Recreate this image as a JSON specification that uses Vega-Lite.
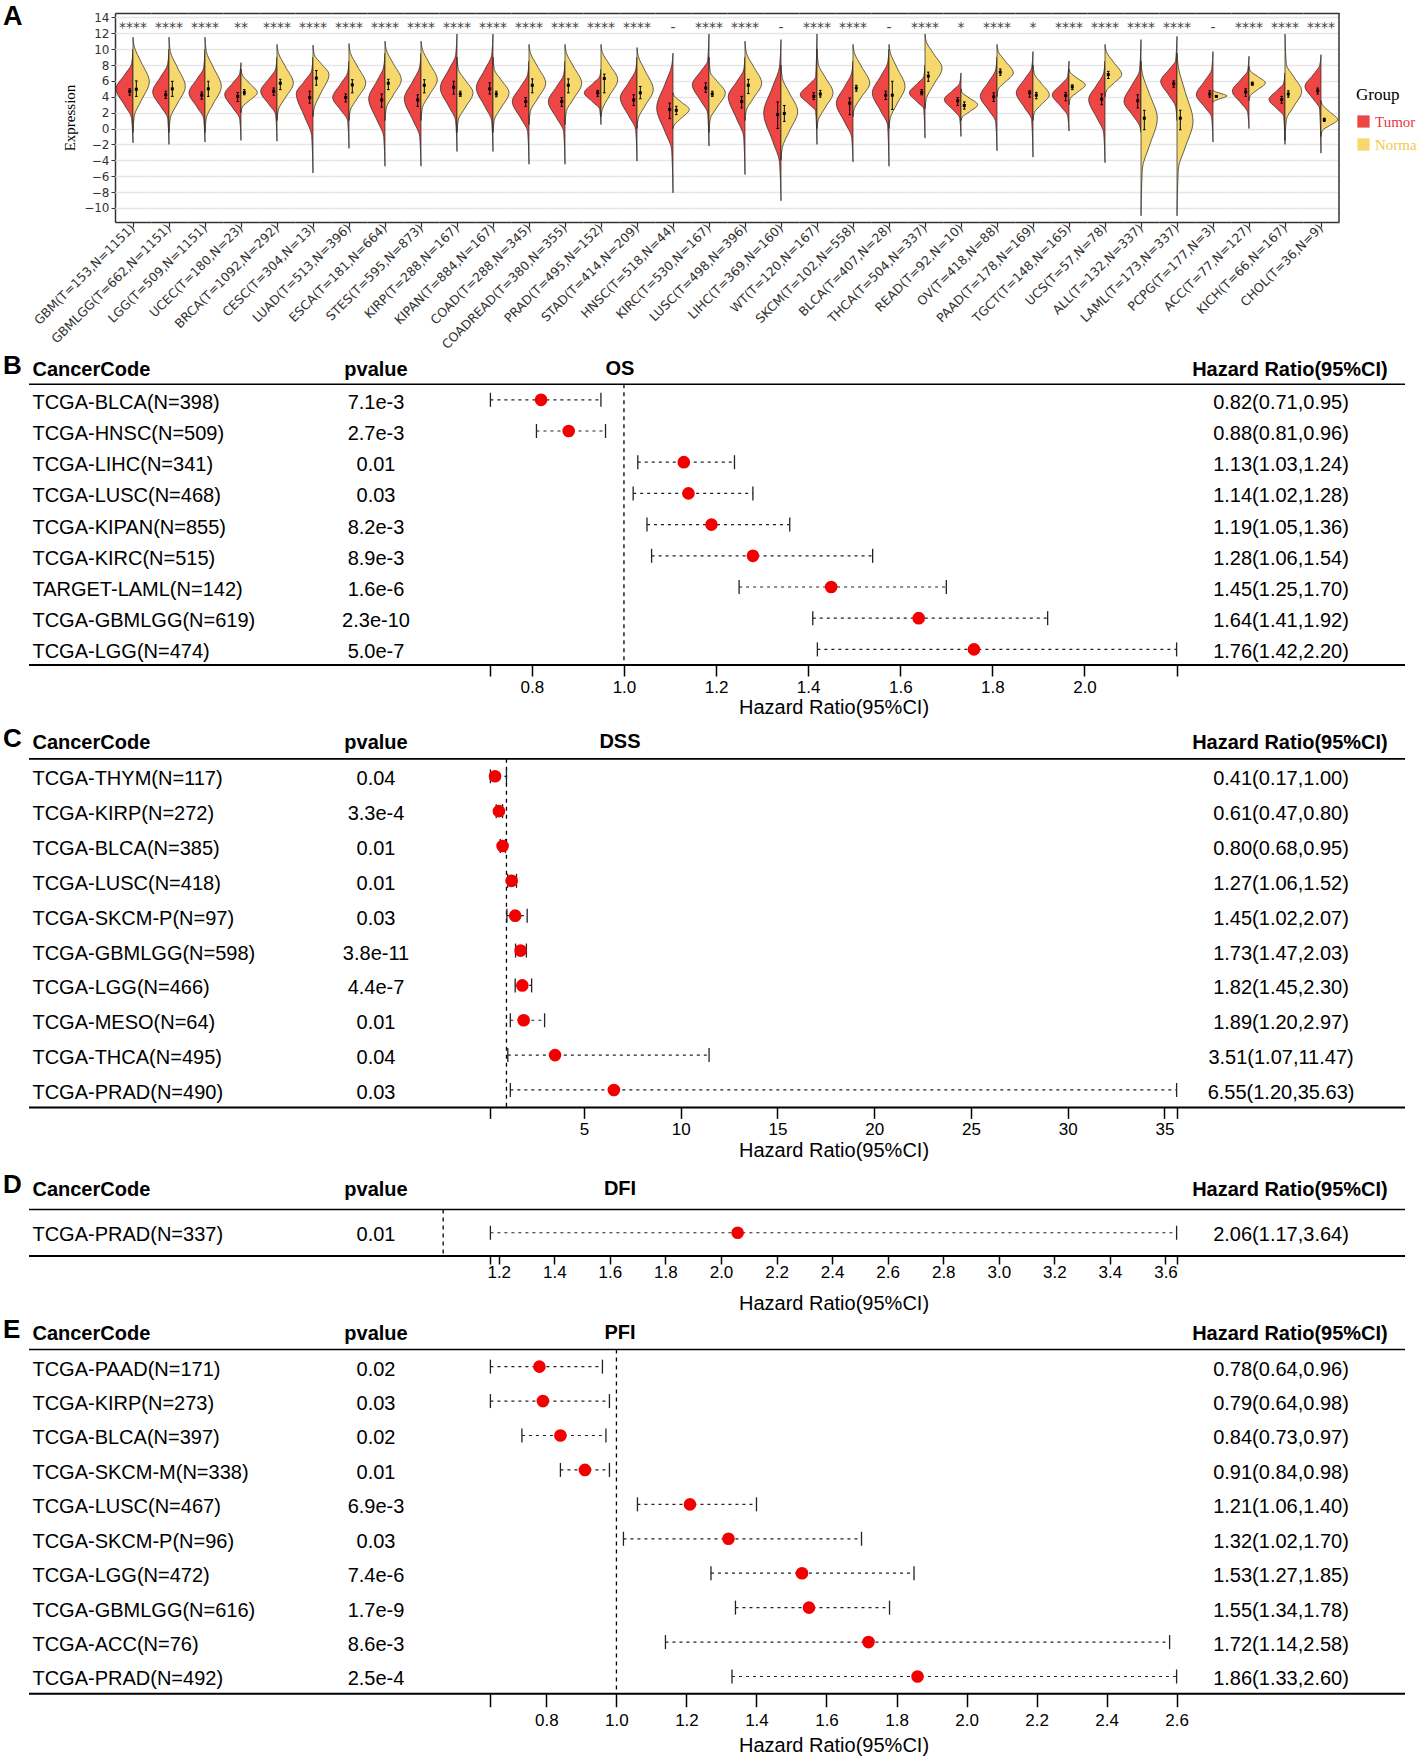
{
"$schema":"https://vega.github.io/schema/vega-lite/v6.json",
"background":"white",
"padding":{"left":2,"top":2,"right":0,"bottom":0},
"spacing":0,
"config":{"view":{"stroke":null},"axis":{"grid":false},"font":"Liberation Sans"},
"resolve":{"legend":{"fill":"independent"}},
"vconcat":[
{
"data":{"values":[
{"c":"GBM","g":"Tumor","k":"v","v":-1.8,"w":0},{"c":"GBM","g":"Tumor","k":"v","v":1.3,"w":1.4},{"c":"GBM","g":"Tumor","k":"v","v":2.95,"w":8.5},{"c":"GBM","g":"Tumor","k":"v","v":5.0,"w":17},{"c":"GBM","g":"Tumor","k":"v","v":6.75,"w":8.5},{"c":"GBM","g":"Tumor","k":"v","v":8.15,"w":1.4},{"c":"GBM","g":"Tumor","k":"v","v":10,"w":0},
{"c":"GBM","g":"Normal","k":"v","v":-0.5,"w":0},{"c":"GBM","g":"Normal","k":"v","v":1.6,"w":1.3},{"c":"GBM","g":"Normal","k":"v","v":3.5,"w":8.2},{"c":"GBM","g":"Normal","k":"v","v":5.9,"w":16.3},{"c":"GBM","g":"Normal","k":"v","v":8.35,"w":8.2},{"c":"GBM","g":"Normal","k":"v","v":10.3,"w":1.3},{"c":"GBM","g":"Normal","k":"v","v":11.5,"w":0},
{"c":"GBMLGG","g":"Tumor","k":"v","v":-2,"w":0},{"c":"GBMLGG","g":"Tumor","k":"v","v":1.3,"w":1.3},{"c":"GBMLGG","g":"Tumor","k":"v","v":2.75,"w":8.2},{"c":"GBMLGG","g":"Tumor","k":"v","v":4.6,"w":16.3},{"c":"GBMLGG","g":"Tumor","k":"v","v":6.55,"w":8.2},{"c":"GBMLGG","g":"Tumor","k":"v","v":8.1,"w":1.3},{"c":"GBMLGG","g":"Tumor","k":"v","v":10,"w":0},
{"c":"GBMLGG","g":"Normal","k":"v","v":-0.5,"w":0},{"c":"GBMLGG","g":"Normal","k":"v","v":1.35,"w":1.3},{"c":"GBMLGG","g":"Normal","k":"v","v":3.1,"w":8.2},{"c":"GBMLGG","g":"Normal","k":"v","v":5.3,"w":16.3},{"c":"GBMLGG","g":"Normal","k":"v","v":7.75,"w":8.2},{"c":"GBMLGG","g":"Normal","k":"v","v":9.7,"w":1.3},{"c":"GBMLGG","g":"Normal","k":"v","v":11.5,"w":0},
{"c":"LGG","g":"Tumor","k":"v","v":-1.7,"w":0},{"c":"LGG","g":"Tumor","k":"v","v":1.25,"w":1.3},{"c":"LGG","g":"Tumor","k":"v","v":2.7,"w":8},{"c":"LGG","g":"Tumor","k":"v","v":4.5,"w":16},{"c":"LGG","g":"Tumor","k":"v","v":6.25,"w":8},{"c":"LGG","g":"Tumor","k":"v","v":7.65,"w":1.3},{"c":"LGG","g":"Tumor","k":"v","v":10,"w":0},
{"c":"LGG","g":"Normal","k":"v","v":-0.5,"w":0},{"c":"LGG","g":"Normal","k":"v","v":1.35,"w":1.3},{"c":"LGG","g":"Normal","k":"v","v":3.1,"w":8.2},{"c":"LGG","g":"Normal","k":"v","v":5.3,"w":16.3},{"c":"LGG","g":"Normal","k":"v","v":7.75,"w":8.2},{"c":"LGG","g":"Normal","k":"v","v":9.7,"w":1.3},{"c":"LGG","g":"Normal","k":"v","v":11.5,"w":0},
{"c":"UCEC","g":"Tumor","k":"v","v":-1.5,"w":0},{"c":"UCEC","g":"Tumor","k":"v","v":1.25,"w":1.3},{"c":"UCEC","g":"Tumor","k":"v","v":2.6,"w":8.2},{"c":"UCEC","g":"Tumor","k":"v","v":4.3,"w":16.3},{"c":"UCEC","g":"Tumor","k":"v","v":5.75,"w":8.2},{"c":"UCEC","g":"Tumor","k":"v","v":6.9,"w":1.3},{"c":"UCEC","g":"Tumor","k":"v","v":8.3,"w":0},
{"c":"UCEC","g":"Normal","k":"v","v":2.0,"w":0},{"c":"UCEC","g":"Normal","k":"v","v":2.7,"w":1.3},{"c":"UCEC","g":"Normal","k":"v","v":3.5,"w":8.2},{"c":"UCEC","g":"Normal","k":"v","v":4.5,"w":16.3},{"c":"UCEC","g":"Normal","k":"v","v":5.75,"w":8.2},{"c":"UCEC","g":"Normal","k":"v","v":6.75,"w":1.3},{"c":"UCEC","g":"Normal","k":"v","v":7.5,"w":0},
{"c":"BRCA","g":"Tumor","k":"v","v":-1.6,"w":0},{"c":"BRCA","g":"Tumor","k":"v","v":1.75,"w":1.3},{"c":"BRCA","g":"Tumor","k":"v","v":3.05,"w":8.2},{"c":"BRCA","g":"Tumor","k":"v","v":4.7,"w":16.3},{"c":"BRCA","g":"Tumor","k":"v","v":6.25,"w":8.2},{"c":"BRCA","g":"Tumor","k":"v","v":7.5,"w":1.3},{"c":"BRCA","g":"Tumor","k":"v","v":9,"w":0},
{"c":"BRCA","g":"Normal","k":"v","v":1.0,"w":0},{"c":"BRCA","g":"Normal","k":"v","v":2.35,"w":1.3},{"c":"BRCA","g":"Normal","k":"v","v":3.85,"w":8.2},{"c":"BRCA","g":"Normal","k":"v","v":5.7,"w":16.3},{"c":"BRCA","g":"Normal","k":"v","v":7.85,"w":8.2},{"c":"BRCA","g":"Normal","k":"v","v":9.55,"w":1.3},{"c":"BRCA","g":"Normal","k":"v","v":10.6,"w":0},
{"c":"CESC","g":"Tumor","k":"v","v":-5.6,"w":0},{"c":"CESC","g":"Tumor","k":"v","v":-0.9,"w":1.3},{"c":"CESC","g":"Tumor","k":"v","v":1.45,"w":8.3},{"c":"CESC","g":"Tumor","k":"v","v":4.4,"w":16.7},{"c":"CESC","g":"Tumor","k":"v","v":6.0,"w":8.3},{"c":"CESC","g":"Tumor","k":"v","v":7.3,"w":1.3},{"c":"CESC","g":"Tumor","k":"v","v":9,"w":0},
{"c":"CESC","g":"Normal","k":"v","v":1.5,"w":0},{"c":"CESC","g":"Normal","k":"v","v":2.65,"w":1.3},{"c":"CESC","g":"Normal","k":"v","v":4.5,"w":8},{"c":"CESC","g":"Normal","k":"v","v":6.8,"w":16},{"c":"CESC","g":"Normal","k":"v","v":8.2,"w":8},{"c":"CESC","g":"Normal","k":"v","v":9.3,"w":1.3},{"c":"CESC","g":"Normal","k":"v","v":10.5,"w":0},
{"c":"LUAD","g":"Tumor","k":"v","v":-2.5,"w":0},{"c":"LUAD","g":"Tumor","k":"v","v":1.0,"w":1.3},{"c":"LUAD","g":"Tumor","k":"v","v":2.3,"w":8.2},{"c":"LUAD","g":"Tumor","k":"v","v":3.9,"w":16.3},{"c":"LUAD","g":"Tumor","k":"v","v":5.65,"w":8.2},{"c":"LUAD","g":"Tumor","k":"v","v":7.05,"w":1.3},{"c":"LUAD","g":"Tumor","k":"v","v":8.5,"w":0},
{"c":"LUAD","g":"Normal","k":"v","v":1.0,"w":0},{"c":"LUAD","g":"Normal","k":"v","v":2.3,"w":1.3},{"c":"LUAD","g":"Normal","k":"v","v":3.8,"w":8.3},{"c":"LUAD","g":"Normal","k":"v","v":5.7,"w":16.7},{"c":"LUAD","g":"Normal","k":"v","v":7.85,"w":8.3},{"c":"LUAD","g":"Normal","k":"v","v":9.55,"w":1.3},{"c":"LUAD","g":"Normal","k":"v","v":10.7,"w":0},
{"c":"ESCA","g":"Tumor","k":"v","v":-4.75,"w":0},{"c":"ESCA","g":"Tumor","k":"v","v":-1.0,"w":1.3},{"c":"ESCA","g":"Tumor","k":"v","v":1.1,"w":8.2},{"c":"ESCA","g":"Tumor","k":"v","v":3.75,"w":16.3},{"c":"ESCA","g":"Tumor","k":"v","v":5.95,"w":8.2},{"c":"ESCA","g":"Tumor","k":"v","v":7.75,"w":1.3},{"c":"ESCA","g":"Tumor","k":"v","v":9.5,"w":0},
{"c":"ESCA","g":"Normal","k":"v","v":1.0,"w":0},{"c":"ESCA","g":"Normal","k":"v","v":2.6,"w":1.3},{"c":"ESCA","g":"Normal","k":"v","v":4.2,"w":8.2},{"c":"ESCA","g":"Normal","k":"v","v":6.15,"w":16.3},{"c":"ESCA","g":"Normal","k":"v","v":8.2,"w":8.2},{"c":"ESCA","g":"Normal","k":"v","v":9.9,"w":1.3},{"c":"ESCA","g":"Normal","k":"v","v":11,"w":0},
{"c":"STES","g":"Tumor","k":"v","v":-4.75,"w":0},{"c":"STES","g":"Tumor","k":"v","v":-1.0,"w":1.3},{"c":"STES","g":"Tumor","k":"v","v":1.1,"w":8.3},{"c":"STES","g":"Tumor","k":"v","v":3.75,"w":16.7},{"c":"STES","g":"Tumor","k":"v","v":5.95,"w":8.3},{"c":"STES","g":"Tumor","k":"v","v":7.75,"w":1.3},{"c":"STES","g":"Tumor","k":"v","v":9.5,"w":0},
{"c":"STES","g":"Normal","k":"v","v":1.0,"w":0},{"c":"STES","g":"Normal","k":"v","v":2.6,"w":1.3},{"c":"STES","g":"Normal","k":"v","v":4.2,"w":8.2},{"c":"STES","g":"Normal","k":"v","v":6.15,"w":16.3},{"c":"STES","g":"Normal","k":"v","v":8.25,"w":8.2},{"c":"STES","g":"Normal","k":"v","v":10.0,"w":1.3},{"c":"STES","g":"Normal","k":"v","v":11,"w":0},
{"c":"KIRP","g":"Tumor","k":"v","v":-2.9,"w":0},{"c":"KIRP","g":"Tumor","k":"v","v":0.95,"w":1.3},{"c":"KIRP","g":"Tumor","k":"v","v":2.8,"w":8.3},{"c":"KIRP","g":"Tumor","k":"v","v":5.1,"w":16.7},{"c":"KIRP","g":"Tumor","k":"v","v":7.4,"w":8.3},{"c":"KIRP","g":"Tumor","k":"v","v":9.25,"w":1.3},{"c":"KIRP","g":"Tumor","k":"v","v":11.9,"w":0},
{"c":"KIRP","g":"Normal","k":"v","v":-0.5,"w":0},{"c":"KIRP","g":"Normal","k":"v","v":1.1,"w":1.3},{"c":"KIRP","g":"Normal","k":"v","v":2.6,"w":8},{"c":"KIRP","g":"Normal","k":"v","v":4.5,"w":16},{"c":"KIRP","g":"Normal","k":"v","v":6.15,"w":8},{"c":"KIRP","g":"Normal","k":"v","v":7.45,"w":1.3},{"c":"KIRP","g":"Normal","k":"v","v":9,"w":0},
{"c":"KIPAN","g":"Tumor","k":"v","v":-2.9,"w":0},{"c":"KIPAN","g":"Tumor","k":"v","v":0.95,"w":1.3},{"c":"KIPAN","g":"Tumor","k":"v","v":2.8,"w":8.3},{"c":"KIPAN","g":"Tumor","k":"v","v":5.1,"w":16.7},{"c":"KIPAN","g":"Tumor","k":"v","v":7.4,"w":8.3},{"c":"KIPAN","g":"Tumor","k":"v","v":9.25,"w":1.3},{"c":"KIPAN","g":"Tumor","k":"v","v":11.9,"w":0},
{"c":"KIPAN","g":"Normal","k":"v","v":-0.5,"w":0},{"c":"KIPAN","g":"Normal","k":"v","v":1.1,"w":1.3},{"c":"KIPAN","g":"Normal","k":"v","v":2.6,"w":8},{"c":"KIPAN","g":"Normal","k":"v","v":4.5,"w":16},{"c":"KIPAN","g":"Normal","k":"v","v":6.15,"w":8},{"c":"KIPAN","g":"Normal","k":"v","v":7.45,"w":1.3},{"c":"KIPAN","g":"Normal","k":"v","v":9,"w":0},
{"c":"COAD","g":"Tumor","k":"v","v":-4.5,"w":0},{"c":"COAD","g":"Tumor","k":"v","v":-0.4,"w":1.3},{"c":"COAD","g":"Tumor","k":"v","v":1.3,"w":8.3},{"c":"COAD","g":"Tumor","k":"v","v":3.4,"w":16.7},{"c":"COAD","g":"Tumor","k":"v","v":5.3,"w":8.3},{"c":"COAD","g":"Tumor","k":"v","v":6.8,"w":1.3},{"c":"COAD","g":"Tumor","k":"v","v":8.5,"w":0},
{"c":"COAD","g":"Normal","k":"v","v":0.5,"w":0},{"c":"COAD","g":"Normal","k":"v","v":2.15,"w":1.3},{"c":"COAD","g":"Normal","k":"v","v":3.7,"w":8.3},{"c":"COAD","g":"Normal","k":"v","v":5.7,"w":16.7},{"c":"COAD","g":"Normal","k":"v","v":7.85,"w":8.3},{"c":"COAD","g":"Normal","k":"v","v":9.55,"w":1.3},{"c":"COAD","g":"Normal","k":"v","v":10.6,"w":0},
{"c":"COADREAD","g":"Tumor","k":"v","v":-4.5,"w":0},{"c":"COADREAD","g":"Tumor","k":"v","v":-0.4,"w":1.3},{"c":"COADREAD","g":"Tumor","k":"v","v":1.3,"w":8.3},{"c":"COADREAD","g":"Tumor","k":"v","v":3.4,"w":16.7},{"c":"COADREAD","g":"Tumor","k":"v","v":5.3,"w":8.3},{"c":"COADREAD","g":"Tumor","k":"v","v":6.8,"w":1.3},{"c":"COADREAD","g":"Tumor","k":"v","v":8.5,"w":0},
{"c":"COADREAD","g":"Normal","k":"v","v":0.5,"w":0},{"c":"COADREAD","g":"Normal","k":"v","v":2.15,"w":1.3},{"c":"COADREAD","g":"Normal","k":"v","v":3.7,"w":8.3},{"c":"COADREAD","g":"Normal","k":"v","v":5.7,"w":16.7},{"c":"COADREAD","g":"Normal","k":"v","v":7.85,"w":8.3},{"c":"COADREAD","g":"Normal","k":"v","v":9.55,"w":1.3},{"c":"COADREAD","g":"Normal","k":"v","v":10.6,"w":0},
{"c":"PRAD","g":"Tumor","k":"v","v":0.5,"w":0},{"c":"PRAD","g":"Tumor","k":"v","v":2.45,"w":1.3},{"c":"PRAD","g":"Tumor","k":"v","v":3.35,"w":8.3},{"c":"PRAD","g":"Tumor","k":"v","v":4.5,"w":16.7},{"c":"PRAD","g":"Tumor","k":"v","v":5.65,"w":8.3},{"c":"PRAD","g":"Tumor","k":"v","v":6.55,"w":1.3},{"c":"PRAD","g":"Tumor","k":"v","v":7.5,"w":0},
{"c":"PRAD","g":"Normal","k":"v","v":1.5,"w":0},{"c":"PRAD","g":"Normal","k":"v","v":2.4,"w":1.3},{"c":"PRAD","g":"Normal","k":"v","v":4.1,"w":8.3},{"c":"PRAD","g":"Normal","k":"v","v":6.15,"w":16.7},{"c":"PRAD","g":"Normal","k":"v","v":8.1,"w":8.3},{"c":"PRAD","g":"Normal","k":"v","v":9.6,"w":1.3},{"c":"PRAD","g":"Normal","k":"v","v":10.6,"w":0},
{"c":"STAD","g":"Tumor","k":"v","v":-4.1,"w":0},{"c":"STAD","g":"Tumor","k":"v","v":-0.15,"w":1.3},{"c":"STAD","g":"Tumor","k":"v","v":1.6,"w":8.3},{"c":"STAD","g":"Tumor","k":"v","v":3.85,"w":16.7},{"c":"STAD","g":"Tumor","k":"v","v":5.8,"w":8.3},{"c":"STAD","g":"Tumor","k":"v","v":7.4,"w":1.3},{"c":"STAD","g":"Tumor","k":"v","v":9,"w":0},
{"c":"STAD","g":"Normal","k":"v","v":0,"w":0},{"c":"STAD","g":"Normal","k":"v","v":1.3,"w":1.3},{"c":"STAD","g":"Normal","k":"v","v":2.9,"w":8.2},{"c":"STAD","g":"Normal","k":"v","v":4.9,"w":16.3},{"c":"STAD","g":"Normal","k":"v","v":7.25,"w":8.2},{"c":"STAD","g":"Normal","k":"v","v":9.1,"w":1.3},{"c":"STAD","g":"Normal","k":"v","v":10.2,"w":0},
{"c":"HNSC","g":"Tumor","k":"v","v":-8.1,"w":0},{"c":"HNSC","g":"Tumor","k":"v","v":-2.7,"w":1.3},{"c":"HNSC","g":"Tumor","k":"v","v":-0.35,"w":8.2},{"c":"HNSC","g":"Tumor","k":"v","v":2.6,"w":16.3},{"c":"HNSC","g":"Tumor","k":"v","v":5.55,"w":8.2},{"c":"HNSC","g":"Tumor","k":"v","v":7.9,"w":1.3},{"c":"HNSC","g":"Tumor","k":"v","v":9.5,"w":0},
{"c":"HNSC","g":"Normal","k":"v","v":0,"w":0},{"c":"HNSC","g":"Normal","k":"v","v":0.45,"w":1.3},{"c":"HNSC","g":"Normal","k":"v","v":1.3,"w":8.2},{"c":"HNSC","g":"Normal","k":"v","v":2.4,"w":16.3},{"c":"HNSC","g":"Normal","k":"v","v":3.35,"w":8.2},{"c":"HNSC","g":"Normal","k":"v","v":4.1,"w":1.3},{"c":"HNSC","g":"Normal","k":"v","v":4.5,"w":0},
{"c":"KIRC","g":"Tumor","k":"v","v":-2.2,"w":0},{"c":"KIRC","g":"Tumor","k":"v","v":1.9,"w":1.3},{"c":"KIRC","g":"Tumor","k":"v","v":3.5,"w":8.3},{"c":"KIRC","g":"Tumor","k":"v","v":5.5,"w":16.7},{"c":"KIRC","g":"Tumor","k":"v","v":7.2,"w":8.3},{"c":"KIRC","g":"Tumor","k":"v","v":8.55,"w":1.3},{"c":"KIRC","g":"Tumor","k":"v","v":11.9,"w":0},
{"c":"KIRC","g":"Normal","k":"v","v":-0.5,"w":0},{"c":"KIRC","g":"Normal","k":"v","v":1.25,"w":1.3},{"c":"KIRC","g":"Normal","k":"v","v":2.7,"w":8.2},{"c":"KIRC","g":"Normal","k":"v","v":4.5,"w":16.3},{"c":"KIRC","g":"Normal","k":"v","v":5.95,"w":8.2},{"c":"KIRC","g":"Normal","k":"v","v":7.1,"w":1.3},{"c":"KIRC","g":"Normal","k":"v","v":9,"w":0},
{"c":"LUSC","g":"Tumor","k":"v","v":-5.8,"w":0},{"c":"LUSC","g":"Tumor","k":"v","v":-1.05,"w":1.3},{"c":"LUSC","g":"Tumor","k":"v","v":1.2,"w":8.3},{"c":"LUSC","g":"Tumor","k":"v","v":4.05,"w":16.7},{"c":"LUSC","g":"Tumor","k":"v","v":5.9,"w":8.3},{"c":"LUSC","g":"Tumor","k":"v","v":7.4,"w":1.3},{"c":"LUSC","g":"Tumor","k":"v","v":9,"w":0},
{"c":"LUSC","g":"Normal","k":"v","v":1.0,"w":0},{"c":"LUSC","g":"Normal","k":"v","v":2.3,"w":1.3},{"c":"LUSC","g":"Normal","k":"v","v":3.8,"w":8.3},{"c":"LUSC","g":"Normal","k":"v","v":5.7,"w":16.7},{"c":"LUSC","g":"Normal","k":"v","v":7.85,"w":8.3},{"c":"LUSC","g":"Normal","k":"v","v":9.55,"w":1.3},{"c":"LUSC","g":"Normal","k":"v","v":11,"w":0},
{"c":"LIHC","g":"Tumor","k":"v","v":-9.1,"w":0},{"c":"LIHC","g":"Tumor","k":"v","v":-4.3,"w":1.4},{"c":"LIHC","g":"Tumor","k":"v","v":-1.5,"w":8.6},{"c":"LIHC","g":"Tumor","k":"v","v":1.95,"w":17.3},{"c":"LIHC","g":"Tumor","k":"v","v":5.2,"w":8.6},{"c":"LIHC","g":"Tumor","k":"v","v":7.85,"w":1.4},{"c":"LIHC","g":"Tumor","k":"v","v":11.2,"w":0},
{"c":"LIHC","g":"Normal","k":"v","v":-4,"w":0},{"c":"LIHC","g":"Normal","k":"v","v":-2.4,"w":1.3},{"c":"LIHC","g":"Normal","k":"v","v":-0.35,"w":8.3},{"c":"LIHC","g":"Normal","k":"v","v":2.15,"w":16.7},{"c":"LIHC","g":"Normal","k":"v","v":4.5,"w":8.3},{"c":"LIHC","g":"Normal","k":"v","v":6.35,"w":1.3},{"c":"LIHC","g":"Normal","k":"v","v":8,"w":0},
{"c":"WT","g":"Tumor","k":"v","v":-2.0,"w":0},{"c":"WT","g":"Tumor","k":"v","v":2.2,"w":1.3},{"c":"WT","g":"Tumor","k":"v","v":3.1,"w":8.3},{"c":"WT","g":"Tumor","k":"v","v":4.25,"w":16.7},{"c":"WT","g":"Tumor","k":"v","v":5.5,"w":8.3},{"c":"WT","g":"Tumor","k":"v","v":6.55,"w":1.3},{"c":"WT","g":"Tumor","k":"v","v":11.9,"w":0},
{"c":"WT","g":"Normal","k":"v","v":0,"w":0},{"c":"WT","g":"Normal","k":"v","v":1.1,"w":1.3},{"c":"WT","g":"Normal","k":"v","v":2.6,"w":8},{"c":"WT","g":"Normal","k":"v","v":4.5,"w":16},{"c":"WT","g":"Normal","k":"v","v":6.5,"w":8},{"c":"WT","g":"Normal","k":"v","v":8.1,"w":1.3},{"c":"WT","g":"Normal","k":"v","v":10,"w":0},
{"c":"SKCM","g":"Tumor","k":"v","v":-4.2,"w":0},{"c":"SKCM","g":"Tumor","k":"v","v":-1.1,"w":1.3},{"c":"SKCM","g":"Tumor","k":"v","v":0.8,"w":8.3},{"c":"SKCM","g":"Tumor","k":"v","v":3.2,"w":16.7},{"c":"SKCM","g":"Tumor","k":"v","v":5.3,"w":8.3},{"c":"SKCM","g":"Tumor","k":"v","v":7.0,"w":1.3},{"c":"SKCM","g":"Tumor","k":"v","v":8.5,"w":0},
{"c":"SKCM","g":"Normal","k":"v","v":1.5,"w":0},{"c":"SKCM","g":"Normal","k":"v","v":2.5,"w":1.3},{"c":"SKCM","g":"Normal","k":"v","v":3.95,"w":8.3},{"c":"SKCM","g":"Normal","k":"v","v":5.7,"w":16.7},{"c":"SKCM","g":"Normal","k":"v","v":7.85,"w":8.3},{"c":"SKCM","g":"Normal","k":"v","v":9.55,"w":1.3},{"c":"SKCM","g":"Normal","k":"v","v":10.6,"w":0},
{"c":"BLCA","g":"Tumor","k":"v","v":-4.75,"w":0},{"c":"BLCA","g":"Tumor","k":"v","v":0.35,"w":1.3},{"c":"BLCA","g":"Tumor","k":"v","v":2.2,"w":8.3},{"c":"BLCA","g":"Tumor","k":"v","v":4.5,"w":16.7},{"c":"BLCA","g":"Tumor","k":"v","v":6.6,"w":8.3},{"c":"BLCA","g":"Tumor","k":"v","v":8.3,"w":1.3},{"c":"BLCA","g":"Tumor","k":"v","v":10,"w":0},
{"c":"BLCA","g":"Normal","k":"v","v":0,"w":0},{"c":"BLCA","g":"Normal","k":"v","v":1.35,"w":1.3},{"c":"BLCA","g":"Normal","k":"v","v":3.1,"w":8},{"c":"BLCA","g":"Normal","k":"v","v":5.3,"w":16},{"c":"BLCA","g":"Normal","k":"v","v":7.65,"w":8},{"c":"BLCA","g":"Normal","k":"v","v":9.55,"w":1.3},{"c":"BLCA","g":"Normal","k":"v","v":10.6,"w":0},
{"c":"THCA","g":"Tumor","k":"v","v":-1.2,"w":0},{"c":"THCA","g":"Tumor","k":"v","v":2.45,"w":1.2},{"c":"THCA","g":"Tumor","k":"v","v":3.35,"w":7.8},{"c":"THCA","g":"Tumor","k":"v","v":4.5,"w":15.6},{"c":"THCA","g":"Tumor","k":"v","v":5.65,"w":7.8},{"c":"THCA","g":"Tumor","k":"v","v":6.55,"w":1.2},{"c":"THCA","g":"Tumor","k":"v","v":8,"w":0},
{"c":"THCA","g":"Normal","k":"v","v":2.5,"w":0},{"c":"THCA","g":"Normal","k":"v","v":3.8,"w":1.4},{"c":"THCA","g":"Normal","k":"v","v":5.5,"w":8.5},{"c":"THCA","g":"Normal","k":"v","v":7.6,"w":17},{"c":"THCA","g":"Normal","k":"v","v":9.45,"w":8.5},{"c":"THCA","g":"Normal","k":"v","v":10.9,"w":1.4},{"c":"THCA","g":"Normal","k":"v","v":11.9,"w":0},
{"c":"READ","g":"Tumor","k":"v","v":-1.0,"w":0},{"c":"READ","g":"Tumor","k":"v","v":1.35,"w":1.3},{"c":"READ","g":"Tumor","k":"v","v":2.4,"w":8.3},{"c":"READ","g":"Tumor","k":"v","v":3.65,"w":16.7},{"c":"READ","g":"Tumor","k":"v","v":4.8,"w":8.3},{"c":"READ","g":"Tumor","k":"v","v":5.7,"w":1.3},{"c":"READ","g":"Tumor","k":"v","v":7,"w":0},
{"c":"READ","g":"Normal","k":"v","v":1.0,"w":0},{"c":"READ","g":"Normal","k":"v","v":1.45,"w":1.3},{"c":"READ","g":"Normal","k":"v","v":2.1,"w":8.3},{"c":"READ","g":"Normal","k":"v","v":3.0,"w":16.7},{"c":"READ","g":"Normal","k":"v","v":3.85,"w":8.3},{"c":"READ","g":"Normal","k":"v","v":4.5,"w":1.3},{"c":"READ","g":"Normal","k":"v","v":5.0,"w":0},
{"c":"OV","g":"Tumor","k":"v","v":-2.8,"w":0},{"c":"OV","g":"Tumor","k":"v","v":0.85,"w":1.3},{"c":"OV","g":"Tumor","k":"v","v":2.3,"w":8.3},{"c":"OV","g":"Tumor","k":"v","v":4.05,"w":16.7},{"c":"OV","g":"Tumor","k":"v","v":5.9,"w":8.3},{"c":"OV","g":"Tumor","k":"v","v":7.4,"w":1.3},{"c":"OV","g":"Tumor","k":"v","v":9,"w":0},
{"c":"OV","g":"Normal","k":"v","v":4.0,"w":0},{"c":"OV","g":"Normal","k":"v","v":4.95,"w":1.3},{"c":"OV","g":"Normal","k":"v","v":5.85,"w":8.2},{"c":"OV","g":"Normal","k":"v","v":7.0,"w":16.3},{"c":"OV","g":"Normal","k":"v","v":8.5,"w":8.2},{"c":"OV","g":"Normal","k":"v","v":9.7,"w":1.3},{"c":"OV","g":"Normal","k":"v","v":10.6,"w":0},
{"c":"PAAD","g":"Tumor","k":"v","v":-3.6,"w":0},{"c":"PAAD","g":"Tumor","k":"v","v":1.1,"w":1.3},{"c":"PAAD","g":"Tumor","k":"v","v":2.6,"w":8.3},{"c":"PAAD","g":"Tumor","k":"v","v":4.5,"w":16.7},{"c":"PAAD","g":"Tumor","k":"v","v":6.25,"w":8.3},{"c":"PAAD","g":"Tumor","k":"v","v":7.65,"w":1.3},{"c":"PAAD","g":"Tumor","k":"v","v":9.7,"w":0},
{"c":"PAAD","g":"Normal","k":"v","v":1.0,"w":0},{"c":"PAAD","g":"Normal","k":"v","v":2.0,"w":1.3},{"c":"PAAD","g":"Normal","k":"v","v":3.0,"w":8.2},{"c":"PAAD","g":"Normal","k":"v","v":4.25,"w":16.3},{"c":"PAAD","g":"Normal","k":"v","v":5.7,"w":8.2},{"c":"PAAD","g":"Normal","k":"v","v":6.9,"w":1.3},{"c":"PAAD","g":"Normal","k":"v","v":8,"w":0},
{"c":"TGCT","g":"Tumor","k":"v","v":-0.3,"w":0},{"c":"TGCT","g":"Tumor","k":"v","v":1.6,"w":1.3},{"c":"TGCT","g":"Tumor","k":"v","v":2.8,"w":8.3},{"c":"TGCT","g":"Tumor","k":"v","v":4.25,"w":16.7},{"c":"TGCT","g":"Tumor","k":"v","v":5.5,"w":8.3},{"c":"TGCT","g":"Tumor","k":"v","v":6.55,"w":1.3},{"c":"TGCT","g":"Tumor","k":"v","v":8.5,"w":0},
{"c":"TGCT","g":"Normal","k":"v","v":3.0,"w":0},{"c":"TGCT","g":"Normal","k":"v","v":3.8,"w":1.3},{"c":"TGCT","g":"Normal","k":"v","v":4.55,"w":8.2},{"c":"TGCT","g":"Normal","k":"v","v":5.5,"w":16.3},{"c":"TGCT","g":"Normal","k":"v","v":6.35,"w":8.2},{"c":"TGCT","g":"Normal","k":"v","v":7.05,"w":1.3},{"c":"TGCT","g":"Normal","k":"v","v":7.5,"w":0},
{"c":"UCS","g":"Tumor","k":"v","v":-4.3,"w":0},{"c":"UCS","g":"Tumor","k":"v","v":-0.55,"w":1.3},{"c":"UCS","g":"Tumor","k":"v","v":1.35,"w":8.2},{"c":"UCS","g":"Tumor","k":"v","v":3.65,"w":16.3},{"c":"UCS","g":"Tumor","k":"v","v":5.5,"w":8.2},{"c":"UCS","g":"Tumor","k":"v","v":7.0,"w":1.3},{"c":"UCS","g":"Tumor","k":"v","v":8.5,"w":0},
{"c":"UCS","g":"Normal","k":"v","v":4.0,"w":0},{"c":"UCS","g":"Normal","k":"v","v":4.75,"w":1.3},{"c":"UCS","g":"Normal","k":"v","v":5.65,"w":8.3},{"c":"UCS","g":"Normal","k":"v","v":6.8,"w":16.7},{"c":"UCS","g":"Normal","k":"v","v":8.4,"w":8.3},{"c":"UCS","g":"Normal","k":"v","v":9.7,"w":1.3},{"c":"UCS","g":"Normal","k":"v","v":10.6,"w":0},
{"c":"ALL","g":"Tumor","k":"v","v":-0.5,"w":0},{"c":"ALL","g":"Tumor","k":"v","v":0.35,"w":1.4},{"c":"ALL","g":"Tumor","k":"v","v":1.7,"w":8.5},{"c":"ALL","g":"Tumor","k":"v","v":3.4,"w":17},{"c":"ALL","g":"Tumor","k":"v","v":5.6,"w":8.5},{"c":"ALL","g":"Tumor","k":"v","v":7.35,"w":1.4},{"c":"ALL","g":"Tumor","k":"v","v":11.2,"w":0},
{"c":"ALL","g":"Normal","k":"v","v":-11,"w":0},{"c":"ALL","g":"Normal","k":"v","v":-5.1,"w":1.3},{"c":"ALL","g":"Normal","k":"v","v":-2.25,"w":8.2},{"c":"ALL","g":"Normal","k":"v","v":1.3,"w":16.3},{"c":"ALL","g":"Normal","k":"v","v":4.45,"w":8.2},{"c":"ALL","g":"Normal","k":"v","v":6.95,"w":1.3},{"c":"ALL","g":"Normal","k":"v","v":8.5,"w":0},
{"c":"LAML","g":"Tumor","k":"v","v":1.0,"w":0},{"c":"LAML","g":"Tumor","k":"v","v":2.75,"w":1.3},{"c":"LAML","g":"Tumor","k":"v","v":4.2,"w":8.2},{"c":"LAML","g":"Tumor","k":"v","v":5.95,"w":16.3},{"c":"LAML","g":"Tumor","k":"v","v":7.4,"w":8.2},{"c":"LAML","g":"Tumor","k":"v","v":8.6,"w":1.3},{"c":"LAML","g":"Tumor","k":"v","v":11.6,"w":0},
{"c":"LAML","g":"Normal","k":"v","v":-11,"w":0},{"c":"LAML","g":"Normal","k":"v","v":-5.1,"w":1.3},{"c":"LAML","g":"Normal","k":"v","v":-2.45,"w":8},{"c":"LAML","g":"Normal","k":"v","v":0.9,"w":16},{"c":"LAML","g":"Normal","k":"v","v":4.7,"w":8},{"c":"LAML","g":"Normal","k":"v","v":7.75,"w":1.3},{"c":"LAML","g":"Normal","k":"v","v":9.5,"w":0},
{"c":"PCPG","g":"Tumor","k":"v","v":-1.7,"w":0},{"c":"PCPG","g":"Tumor","k":"v","v":1.4,"w":1.3},{"c":"PCPG","g":"Tumor","k":"v","v":2.7,"w":8.3},{"c":"PCPG","g":"Tumor","k":"v","v":4.25,"w":16.7},{"c":"PCPG","g":"Tumor","k":"v","v":6.0,"w":8.3},{"c":"PCPG","g":"Tumor","k":"v","v":7.45,"w":1.3},{"c":"PCPG","g":"Tumor","k":"v","v":9.7,"w":0},
{"c":"PCPG","g":"Normal","k":"v","v":3.3,"w":0},{"c":"PCPG","g":"Normal","k":"v","v":3.45,"w":1.2},{"c":"PCPG","g":"Normal","k":"v","v":3.75,"w":7},{"c":"PCPG","g":"Normal","k":"v","v":4.1,"w":14},{"c":"PCPG","g":"Normal","k":"v","v":4.45,"w":7},{"c":"PCPG","g":"Normal","k":"v","v":4.7,"w":1.2},{"c":"PCPG","g":"Normal","k":"v","v":4.85,"w":0},
{"c":"ACC","g":"Tumor","k":"v","v":0,"w":0},{"c":"ACC","g":"Tumor","k":"v","v":2.05,"w":1.3},{"c":"ACC","g":"Tumor","k":"v","v":3.25,"w":8.3},{"c":"ACC","g":"Tumor","k":"v","v":4.7,"w":16.7},{"c":"ACC","g":"Tumor","k":"v","v":6.15,"w":8.3},{"c":"ACC","g":"Tumor","k":"v","v":7.3,"w":1.3},{"c":"ACC","g":"Tumor","k":"v","v":9.1,"w":0},
{"c":"ACC","g":"Normal","k":"v","v":3.5,"w":0},{"c":"ACC","g":"Normal","k":"v","v":4.15,"w":1.3},{"c":"ACC","g":"Normal","k":"v","v":4.85,"w":8.2},{"c":"ACC","g":"Normal","k":"v","v":5.75,"w":16.3},{"c":"ACC","g":"Normal","k":"v","v":6.6,"w":8.2},{"c":"ACC","g":"Normal","k":"v","v":7.25,"w":1.3},{"c":"ACC","g":"Normal","k":"v","v":7.8,"w":0},
{"c":"KICH","g":"Tumor","k":"v","v":-2.0,"w":0},{"c":"KICH","g":"Tumor","k":"v","v":1.55,"w":1.3},{"c":"KICH","g":"Tumor","k":"v","v":2.5,"w":8},{"c":"KICH","g":"Tumor","k":"v","v":3.65,"w":16},{"c":"KICH","g":"Tumor","k":"v","v":4.8,"w":8},{"c":"KICH","g":"Tumor","k":"v","v":5.7,"w":1.3},{"c":"KICH","g":"Tumor","k":"v","v":7,"w":0},
{"c":"KICH","g":"Normal","k":"v","v":-1.5,"w":0},{"c":"KICH","g":"Normal","k":"v","v":1.1,"w":1.3},{"c":"KICH","g":"Normal","k":"v","v":2.7,"w":8.3},{"c":"KICH","g":"Normal","k":"v","v":4.7,"w":16.7},{"c":"KICH","g":"Normal","k":"v","v":6.6,"w":8.3},{"c":"KICH","g":"Normal","k":"v","v":8.1,"w":1.3},{"c":"KICH","g":"Normal","k":"v","v":11.9,"w":0},
{"c":"CHOL","g":"Tumor","k":"v","v":-3.1,"w":0},{"c":"CHOL","g":"Tumor","k":"v","v":2.45,"w":1.3},{"c":"CHOL","g":"Tumor","k":"v","v":3.75,"w":8},{"c":"CHOL","g":"Tumor","k":"v","v":5.3,"w":16},{"c":"CHOL","g":"Tumor","k":"v","v":6.75,"w":8},{"c":"CHOL","g":"Tumor","k":"v","v":7.95,"w":1.3},{"c":"CHOL","g":"Tumor","k":"v","v":9.3,"w":0},
{"c":"CHOL","g":"Normal","k":"v","v":-1.0,"w":0},{"c":"CHOL","g":"Normal","k":"v","v":-0.25,"w":1.3},{"c":"CHOL","g":"Normal","k":"v","v":0.35,"w":8.3},{"c":"CHOL","g":"Normal","k":"v","v":1.1,"w":16.7},{"c":"CHOL","g":"Normal","k":"v","v":2.15,"w":8.3},{"c":"CHOL","g":"Normal","k":"v","v":3.0,"w":1.3},{"c":"CHOL","g":"Normal","k":"v","v":3.5,"w":0},
{"c":"GBM","g":"Tumor","k":"e","m":4.68,"lo":4.2,"hi":5.0},{"c":"GBM","g":"Normal","k":"e","m":4.95,"lo":4.05,"hi":6.0},
{"c":"GBMLGG","g":"Tumor","k":"e","m":4.26,"lo":3.8,"hi":4.7},{"c":"GBMLGG","g":"Normal","k":"e","m":5.0,"lo":4.05,"hi":5.95},
{"c":"LGG","g":"Tumor","k":"e","m":4.2,"lo":3.7,"hi":4.6},{"c":"LGG","g":"Normal","k":"e","m":5.0,"lo":4.05,"hi":5.95},
{"c":"UCEC","g":"Tumor","k":"e","m":4.05,"lo":3.4,"hi":4.55},{"c":"UCEC","g":"Normal","k":"e","m":4.55,"lo":4.25,"hi":4.9},
{"c":"BRCA","g":"Tumor","k":"e","m":4.7,"lo":4.2,"hi":5.1},{"c":"BRCA","g":"Normal","k":"e","m":5.7,"lo":4.9,"hi":6.2},
{"c":"CESC","g":"Tumor","k":"e","m":3.9,"lo":3.2,"hi":4.7},{"c":"CESC","g":"Normal","k":"e","m":6.35,"lo":5.45,"hi":7.3},
{"c":"LUAD","g":"Tumor","k":"e","m":3.9,"lo":3.35,"hi":4.35},{"c":"LUAD","g":"Normal","k":"e","m":5.5,"lo":4.5,"hi":6.15},
{"c":"ESCA","g":"Tumor","k":"e","m":3.6,"lo":2.7,"hi":4.35},{"c":"ESCA","g":"Normal","k":"e","m":5.7,"lo":4.9,"hi":6.2},
{"c":"STES","g":"Tumor","k":"e","m":3.6,"lo":2.8,"hi":4.25},{"c":"STES","g":"Normal","k":"e","m":5.45,"lo":4.5,"hi":6.15},
{"c":"KIRP","g":"Tumor","k":"e","m":5.2,"lo":4.35,"hi":5.95},{"c":"KIRP","g":"Normal","k":"e","m":4.35,"lo":4.05,"hi":4.7},
{"c":"KIPAN","g":"Tumor","k":"e","m":5.0,"lo":4.35,"hi":5.75},{"c":"KIPAN","g":"Normal","k":"e","m":4.35,"lo":4.0,"hi":4.7},
{"c":"COAD","g":"Tumor","k":"e","m":3.4,"lo":2.8,"hi":3.9},{"c":"COAD","g":"Normal","k":"e","m":5.45,"lo":4.5,"hi":6.25},
{"c":"COADREAD","g":"Tumor","k":"e","m":3.4,"lo":2.8,"hi":3.9},{"c":"COADREAD","g":"Normal","k":"e","m":5.45,"lo":4.5,"hi":6.25},
{"c":"PRAD","g":"Tumor","k":"e","m":4.5,"lo":4.05,"hi":4.8},{"c":"PRAD","g":"Normal","k":"e","m":6.3,"lo":4.5,"hi":6.85},
{"c":"STAD","g":"Tumor","k":"e","m":3.6,"lo":2.9,"hi":4.25},{"c":"STAD","g":"Normal","k":"e","m":4.5,"lo":3.75,"hi":5.3},
{"c":"HNSC","g":"Tumor","k":"e","m":2.4,"lo":1.25,"hi":3.2},{"c":"HNSC","g":"Normal","k":"e","m":2.3,"lo":1.75,"hi":2.8},
{"c":"KIRC","g":"Tumor","k":"e","m":5.1,"lo":4.55,"hi":5.75},{"c":"KIRC","g":"Normal","k":"e","m":4.35,"lo":4.05,"hi":4.7},
{"c":"LUSC","g":"Tumor","k":"e","m":3.4,"lo":2.6,"hi":4.05},{"c":"LUSC","g":"Normal","k":"e","m":5.45,"lo":4.4,"hi":6.2},
{"c":"LIHC","g":"Tumor","k":"e","m":1.75,"lo":0.0,"hi":3.35},{"c":"LIHC","g":"Normal","k":"e","m":1.9,"lo":0.9,"hi":2.9},
{"c":"WT","g":"Tumor","k":"e","m":4.05,"lo":3.65,"hi":4.5},{"c":"WT","g":"Normal","k":"e","m":4.35,"lo":3.95,"hi":4.8},
{"c":"SKCM","g":"Tumor","k":"e","m":3.2,"lo":1.75,"hi":3.85},{"c":"SKCM","g":"Normal","k":"e","m":5.1,"lo":4.7,"hi":5.45},
{"c":"BLCA","g":"Tumor","k":"e","m":4.2,"lo":3.65,"hi":4.7},{"c":"BLCA","g":"Normal","k":"e","m":4.2,"lo":2.4,"hi":5.95},
{"c":"THCA","g":"Tumor","k":"e","m":4.55,"lo":4.25,"hi":4.9},{"c":"THCA","g":"Normal","k":"e","m":6.6,"lo":5.95,"hi":7.1},
{"c":"READ","g":"Tumor","k":"e","m":3.5,"lo":2.9,"hi":3.9},{"c":"READ","g":"Normal","k":"e","m":2.9,"lo":2.45,"hi":3.35},
{"c":"OV","g":"Tumor","k":"e","m":4.0,"lo":3.4,"hi":4.5},{"c":"OV","g":"Normal","k":"e","m":7.1,"lo":6.7,"hi":7.5},
{"c":"PAAD","g":"Tumor","k":"e","m":4.5,"lo":3.95,"hi":4.75},{"c":"PAAD","g":"Normal","k":"e","m":4.2,"lo":3.75,"hi":4.55},
{"c":"TGCT","g":"Tumor","k":"e","m":4.15,"lo":3.5,"hi":4.55},{"c":"TGCT","g":"Normal","k":"e","m":5.25,"lo":4.9,"hi":5.5},
{"c":"UCS","g":"Tumor","k":"e","m":3.7,"lo":3.0,"hi":4.35},{"c":"UCS","g":"Normal","k":"e","m":6.8,"lo":6.3,"hi":7.2},
{"c":"ALL","g":"Tumor","k":"e","m":3.5,"lo":2.6,"hi":4.25},{"c":"ALL","g":"Normal","k":"e","m":1.3,"lo":-0.15,"hi":2.3},
{"c":"LAML","g":"Tumor","k":"e","m":5.65,"lo":5.2,"hi":6.0},{"c":"LAML","g":"Normal","k":"e","m":1.3,"lo":-0.15,"hi":2.3},
{"c":"PCPG","g":"Tumor","k":"e","m":4.35,"lo":3.95,"hi":4.75},{"c":"PCPG","g":"Normal","k":"e","m":4.05,"lo":3.97,"hi":4.12},
{"c":"ACC","g":"Tumor","k":"e","m":4.6,"lo":4.05,"hi":5.0},{"c":"ACC","g":"Normal","k":"e","m":5.65,"lo":5.45,"hi":5.85},
{"c":"KICH","g":"Tumor","k":"e","m":3.65,"lo":3.2,"hi":4.05},{"c":"KICH","g":"Normal","k":"e","m":4.35,"lo":3.95,"hi":4.75},
{"c":"CHOL","g":"Tumor","k":"e","m":4.75,"lo":4.35,"hi":5.1},{"c":"CHOL","g":"Normal","k":"e","m":1.1,"lo":0.9,"hi":1.3},
{"c":"GBM","k":"l","sig":"****","lab":"GBM(T=153,N=1151)"},
{"c":"GBMLGG","k":"l","sig":"****","lab":"GBMLGG(T=662,N=1151)"},
{"c":"LGG","k":"l","sig":"****","lab":"LGG(T=509,N=1151)"},
{"c":"UCEC","k":"l","sig":"**","lab":"UCEC(T=180,N=23)"},
{"c":"BRCA","k":"l","sig":"****","lab":"BRCA(T=1092,N=292)"},
{"c":"CESC","k":"l","sig":"****","lab":"CESC(T=304,N=13)"},
{"c":"LUAD","k":"l","sig":"****","lab":"LUAD(T=513,N=396)"},
{"c":"ESCA","k":"l","sig":"****","lab":"ESCA(T=181,N=664)"},
{"c":"STES","k":"l","sig":"****","lab":"STES(T=595,N=873)"},
{"c":"KIRP","k":"l","sig":"****","lab":"KIRP(T=288,N=167)"},
{"c":"KIPAN","k":"l","sig":"****","lab":"KIPAN(T=884,N=167)"},
{"c":"COAD","k":"l","sig":"****","lab":"COAD(T=288,N=345)"},
{"c":"COADREAD","k":"l","sig":"****","lab":"COADREAD(T=380,N=355)"},
{"c":"PRAD","k":"l","sig":"****","lab":"PRAD(T=495,N=152)"},
{"c":"STAD","k":"l","sig":"****","lab":"STAD(T=414,N=209)"},
{"c":"HNSC","k":"l","sig":"-","lab":"HNSC(T=518,N=44)"},
{"c":"KIRC","k":"l","sig":"****","lab":"KIRC(T=530,N=167)"},
{"c":"LUSC","k":"l","sig":"****","lab":"LUSC(T=498,N=396)"},
{"c":"LIHC","k":"l","sig":"-","lab":"LIHC(T=369,N=160)"},
{"c":"WT","k":"l","sig":"****","lab":"WT(T=120,N=167)"},
{"c":"SKCM","k":"l","sig":"****","lab":"SKCM(T=102,N=558)"},
{"c":"BLCA","k":"l","sig":"-","lab":"BLCA(T=407,N=28)"},
{"c":"THCA","k":"l","sig":"****","lab":"THCA(T=504,N=337)"},
{"c":"READ","k":"l","sig":"*","lab":"READ(T=92,N=10)"},
{"c":"OV","k":"l","sig":"****","lab":"OV(T=418,N=88)"},
{"c":"PAAD","k":"l","sig":"*","lab":"PAAD(T=178,N=169)"},
{"c":"TGCT","k":"l","sig":"****","lab":"TGCT(T=148,N=165)"},
{"c":"UCS","k":"l","sig":"****","lab":"UCS(T=57,N=78)"},
{"c":"ALL","k":"l","sig":"****","lab":"ALL(T=132,N=337)"},
{"c":"LAML","k":"l","sig":"****","lab":"LAML(T=173,N=337)"},
{"c":"PCPG","k":"l","sig":"-","lab":"PCPG(T=177,N=3)"},
{"c":"ACC","k":"l","sig":"****","lab":"ACC(T=77,N=127)"},
{"c":"KICH","k":"l","sig":"****","lab":"KICH(T=66,N=167)"},
{"c":"CHOL","k":"l","sig":"****","lab":"CHOL(T=36,N=9)"}
]},
"spacing":0,
"bounds":"flush",
"facet":{"column":{"field":"c","type":"nominal","header":null,"sort":["GBM","GBMLGG","LGG","UCEC","BRCA","CESC","LUAD","ESCA","STES","KIRP","KIPAN","COAD","COADREAD","PRAD","STAD","HNSC","KIRC","LUSC","LIHC","WT","SKCM","BLCA","THCA","READ","OV","PAAD","TGCT","UCS","ALL","LAML","PCPG","ACC","KICH","CHOL"]}},
"resolve":{"scale":{"x":"independent"}},
"spec":{
"width":36,"height":209,
"layer":[
{"layer":[
{"transform":[{"filter":"datum.k=='v' && datum.g=='Tumor'"}],
"mark":{"type":"area","orient":"horizontal","interpolate":"monotone","stroke":"#222","strokeWidth":0.7,"opacity":1},
"encoding":{
"x":{"field":"w","type":"quantitative","scale":{"domain":[-18,18],"reverse":true,"nice":false,"zero":false},"axis":{"orient":"bottom","values":[0],"labels":false,"ticks":true,"tickSize":5,"tickColor":"#333","tickWidth":1.2,"domain":true,"domainColor":"#333","domainWidth":1.5,"title":null,"grid":false}},
"x2":{"datum":0},
"y":{"field":"v","type":"quantitative","scale":{"domain":[-11.77,14.55],"nice":false,"zero":false},"axis":{"values":[-10,-8,-6,-4,-2,0,2,4,6,8,10,12,14],"tickCount":40,"format":"d","labelOverlap":false,"grid":true,"gridColor":"#E6E6E6","gridWidth":1.6,"labelFont":"DejaVu Sans","labelFontSize":12,"labelColor":"#333","tickColor":"#333","tickSize":4,"domainColor":"#333","domainWidth":1.5,"title":"Expression","titleFont":"Liberation Serif","titleFontSize":15,"titleFontWeight":"normal","titleColor":"black","titlePadding":6}},
"fill":{"field":"g","type":"nominal","scale":{"domain":["Tumor","Normal"],"range":["#EE4545","#F7D86C"]},"legend":{"title":"Group","orient":"none","legendX":1241,"legendY":74,"symbolType":"square","symbolSize":150,"symbolStrokeWidth":0,"symbolOpacity":1,"titleFont":"Liberation Serif","titleFontSize":17,"titleFontWeight":"normal","titleColor":"black","titlePadding":10,"labelFont":"Liberation Serif","labelFontSize":15,"labelColor":{"expr":"datum.label=='Tumor'?'#E8383D':'#F0C94F'"},"rowPadding":7}}
}},
{"transform":[{"filter":"datum.k=='e' && datum.g=='Tumor'"}],"mark":{"type":"rule","color":"black","strokeWidth":1},"encoding":{"x":{"datum":3.3},"y":{"field":"lo","type":"quantitative"},"y2":{"field":"hi"}}},
{"transform":[{"filter":"datum.k=='e' && datum.g=='Tumor'"}],"mark":{"type":"rule","color":"black","strokeWidth":1},"encoding":{"x":{"datum":2.0},"x2":{"datum":4.6},"y":{"field":"lo","type":"quantitative"}}},
{"transform":[{"filter":"datum.k=='e' && datum.g=='Tumor'"}],"mark":{"type":"rule","color":"black","strokeWidth":1},"encoding":{"x":{"datum":2.0},"x2":{"datum":4.6},"y":{"field":"hi","type":"quantitative"}}},
{"transform":[{"filter":"datum.k=='e' && datum.g=='Tumor'"}],"mark":{"type":"square","color":"black","size":9,"opacity":1},"encoding":{"x":{"datum":3.3},"y":{"field":"m","type":"quantitative"}}},
{"transform":[{"filter":"datum.k=='l'"}],"mark":{"type":"text","font":"DejaVu Sans","fontSize":14,"color":"#444","baseline":"middle"},"encoding":{"x":{"datum":0},"y":{"datum":12.6},"text":{"field":"sig"}}},
{"transform":[{"filter":"datum.k=='l'"}],"mark":{"type":"text","font":"DejaVu Sans","fontSize":12.5,"color":"#333","angle":-45,"align":"right","baseline":"middle"},"encoding":{"x":{"datum":0},"y":{"datum":-12.3},"text":{"field":"lab"}}},
{"transform":[{"filter":"datum.k=='l' && datum.c=='GBM'"}],"mark":{"type":"text","font":"Liberation Sans","fontSize":27,"fontWeight":"bold","align":"left","baseline":"middle","color":"black"},"encoding":{"x":{"datum":130},"y":{"datum":14.1},"text":{"value":"A"}}}
]},
{"layer":[
{"transform":[{"filter":"datum.k=='v' && datum.g=='Normal'"}],
"mark":{"type":"area","orient":"horizontal","interpolate":"monotone","stroke":"#222","strokeWidth":0.7,"opacity":1},
"encoding":{
"x":{"field":"w","type":"quantitative","scale":{"domain":[-18,18],"nice":false,"zero":false},"axis":{"orient":"top","labels":false,"ticks":false,"domain":true,"domainColor":"#333","domainWidth":1.5,"title":null,"grid":false}},
"x2":{"datum":0},
"y":{"field":"v","type":"quantitative"},
"fill":{"field":"g","type":"nominal","scale":{"domain":["Tumor","Normal"],"range":["#EE4545","#F7D86C"]},"legend":{"title":"Group","orient":"none","legendX":1241,"legendY":74,"symbolType":"square","symbolSize":150,"symbolStrokeWidth":0,"symbolOpacity":1,"titleFont":"Liberation Serif","titleFontSize":17,"titleFontWeight":"normal","titleColor":"black","titlePadding":10,"labelFont":"Liberation Serif","labelFontSize":15,"labelColor":{"expr":"datum.label=='Tumor'?'#E8383D':'#F0C94F'"},"rowPadding":7}}
}},
{"transform":[{"filter":"datum.k=='e' && datum.g=='Normal'"}],"mark":{"type":"rule","color":"black","strokeWidth":1},"encoding":{"x":{"datum":3.3},"y":{"field":"lo","type":"quantitative"},"y2":{"field":"hi"}}},
{"transform":[{"filter":"datum.k=='e' && datum.g=='Normal'"}],"mark":{"type":"rule","color":"black","strokeWidth":1},"encoding":{"x":{"datum":2.0},"x2":{"datum":4.6},"y":{"field":"lo","type":"quantitative"}}},
{"transform":[{"filter":"datum.k=='e' && datum.g=='Normal'"}],"mark":{"type":"rule","color":"black","strokeWidth":1},"encoding":{"x":{"datum":2.0},"x2":{"datum":4.6},"y":{"field":"hi","type":"quantitative"}}},
{"transform":[{"filter":"datum.k=='e' && datum.g=='Normal'"}],"mark":{"type":"square","color":"black","size":9,"opacity":1},"encoding":{"x":{"datum":3.3},"y":{"field":"m","type":"quantitative"}}},
{"transform":[{"filter":"datum.k=='l' && datum.c=='CHOL'"}],"mark":{"type":"rule","color":"#333","strokeWidth":1.5},"encoding":{"x":{"datum":18}}}
]}
],
"resolve":{"scale":{"x":"independent"}}
}
},
{
"spacing":7,
"vconcat":[
{
"width":1290,"height":312,
"data":{"values":[
{"name":"TCGA-BLCA(N=398)","p":"7.1e-3","hr":0.82,"lo":0.71,"hi":0.95,"ci":"0.82(0.71,0.95)"},
{"name":"TCGA-HNSC(N=509)","p":"2.7e-3","hr":0.88,"lo":0.81,"hi":0.96,"ci":"0.88(0.81,0.96)"},
{"name":"TCGA-LIHC(N=341)","p":"0.01","hr":1.13,"lo":1.03,"hi":1.24,"ci":"1.13(1.03,1.24)"},
{"name":"TCGA-LUSC(N=468)","p":"0.03","hr":1.14,"lo":1.02,"hi":1.28,"ci":"1.14(1.02,1.28)"},
{"name":"TCGA-KIPAN(N=855)","p":"8.2e-3","hr":1.19,"lo":1.05,"hi":1.36,"ci":"1.19(1.05,1.36)"},
{"name":"TCGA-KIRC(N=515)","p":"8.9e-3","hr":1.28,"lo":1.06,"hi":1.54,"ci":"1.28(1.06,1.54)"},
{"name":"TARGET-LAML(N=142)","p":"1.6e-6","hr":1.45,"lo":1.25,"hi":1.70,"ci":"1.45(1.25,1.70)"},
{"name":"TCGA-GBMLGG(N=619)","p":"2.3e-10","hr":1.64,"lo":1.41,"hi":1.92,"ci":"1.64(1.41,1.92)"},
{"name":"TCGA-LGG(N=474)","p":"5.0e-7","hr":1.76,"lo":1.42,"hi":2.20,"ci":"1.76(1.42,2.20)"}
]},
"encoding":{"y":{"field":"name","type":"nominal","scale":{"type":"band","domain":["H","TCGA-BLCA(N=398)","TCGA-HNSC(N=509)","TCGA-LIHC(N=341)","TCGA-LUSC(N=468)","TCGA-KIPAN(N=855)","TCGA-KIRC(N=515)","TARGET-LAML(N=142)","TCGA-GBMLGG(N=619)","TCGA-LGG(N=474)"],"paddingInner":0,"paddingOuter":0},"axis":null}},
"layer":[
{"layer":[
{"data":{"values":[{}]},"mark":{"type":"rule","strokeDash":[4,4],"strokeWidth":1.3,"color":"black"},"encoding":{"x":{"datum":1,"type":"quantitative","scale":{"domain":[0.71,2.2],"range":[375.4,1061.6],"nice":false,"zero":false}},"y":{"datum":"TCGA-BLCA(N=398)","bandPosition":0},"y2":{"datum":"TCGA-LGG(N=474)","bandPosition":1}}},
{"mark":{"type":"rule","strokeDash":[3,4],"strokeWidth":1.2,"color":"#222"},"encoding":{"x":{"field":"lo","type":"quantitative","scale":{"domain":[0.71,2.2],"range":[375.4,1061.6],"nice":false,"zero":false},"axis":{"orient":"bottom","values":[0.71,0.8,1.0,1.2,1.4,1.6,1.8,2.0,2.2],"tickCount":40,"labelExpr":"datum.value<0.75||datum.value>2.1?'':format(datum.value,'.1f')","domain":false,"ticks":true,"tickSize":11,"tickWidth":1.5,"tickColor":"black","labelFont":"Liberation Sans","labelFontSize":17,"labelColor":"black","labelPadding":3,"labelFlush":false,"labelOverlap":false,"title":"Hazard Ratio(95%CI)","titleFont":"Liberation Sans","titleFontSize":20,"titleFontWeight":"normal","titleColor":"black","titlePadding":2,"grid":false}},"x2":{"field":"hi"}}},
{"mark":{"type":"tick","size":14,"thickness":1.3,"color":"#222","opacity":1},"encoding":{"x":{"field":"lo","type":"quantitative","scale":{"domain":[0.71,2.2],"range":[375.4,1061.6],"nice":false,"zero":false}}}},
{"mark":{"type":"tick","size":14,"thickness":1.3,"color":"#222","opacity":1},"encoding":{"x":{"field":"hi","type":"quantitative","scale":{"domain":[0.71,2.2],"range":[375.4,1061.6],"nice":false,"zero":false}}}},
{"mark":{"type":"circle","size":160,"color":"#F20000","opacity":1},"encoding":{"x":{"field":"hr","type":"quantitative","scale":{"domain":[0.71,2.2],"range":[375.4,1061.6],"nice":false,"zero":false}}}}
]},
{"layer":[
{"mark":{"type":"text","align":"left","baseline":"middle","fontSize":20,"dy":3,"color":"black"},"encoding":{"x":{"datum":0.0025,"type":"quantitative","scale":{"domain":[0,1],"range":[-86,1290],"nice":false,"zero":false},"axis":null},"text":{"field":"name"}}},
{"mark":{"type":"text","align":"center","baseline":"middle","fontSize":20,"dy":3,"color":"black"},"encoding":{"x":{"datum":0.2522,"type":"quantitative","scale":{"domain":[0,1],"range":[-86,1290],"nice":false,"zero":false},"axis":null},"text":{"field":"p"}}},
{"mark":{"type":"text","align":"center","baseline":"middle","fontSize":20,"dy":3,"color":"black"},"encoding":{"x":{"datum":0.9099,"type":"quantitative","scale":{"domain":[0,1],"range":[-86,1290],"nice":false,"zero":false},"axis":null},"text":{"field":"ci"}}},
{"data":{"values":[{}]},"mark":{"type":"text","align":"left","baseline":"middle","fontSize":26,"fontWeight":"bold","dy":-3,"color":"black"},"encoding":{"x":{"datum":-0.0189,"type":"quantitative","scale":{"domain":[0,1],"range":[-86,1290],"nice":false,"zero":false},"axis":null},"y":{"datum":"H"},"text":{"value":"B"}}},
{"data":{"values":[{}]},"mark":{"type":"text","align":"left","baseline":"middle","fontSize":20,"fontWeight":"bold","dy":1,"color":"black"},"encoding":{"x":{"datum":0.0025,"type":"quantitative","scale":{"domain":[0,1],"range":[-86,1290],"nice":false,"zero":false},"axis":null},"y":{"datum":"H"},"text":{"value":"CancerCode"}}},
{"data":{"values":[{}]},"mark":{"type":"text","align":"center","baseline":"middle","fontSize":20,"fontWeight":"bold","dy":1,"color":"black"},"encoding":{"x":{"datum":0.2522,"type":"quantitative","scale":{"domain":[0,1],"range":[-86,1290],"nice":false,"zero":false},"axis":null},"y":{"datum":"H"},"text":{"value":"pvalue"}}},
{"data":{"values":[{}]},"mark":{"type":"text","align":"center","baseline":"middle","fontSize":20,"fontWeight":"bold","dy":0,"color":"black"},"encoding":{"x":{"datum":0.4295,"type":"quantitative","scale":{"domain":[0,1],"range":[-86,1290],"nice":false,"zero":false},"axis":null},"y":{"datum":"H"},"text":{"value":"OS"}}},
{"data":{"values":[{}]},"mark":{"type":"text","align":"center","baseline":"middle","fontSize":20,"fontWeight":"bold","dy":1,"color":"black"},"encoding":{"x":{"datum":0.9164,"type":"quantitative","scale":{"domain":[0,1],"range":[-86,1290],"nice":false,"zero":false},"axis":null},"y":{"datum":"H"},"text":{"value":"Hazard Ratio(95%CI)"}}},
{"data":{"values":[{}]},"mark":{"type":"rule","strokeWidth":1.6,"color":"black"},"encoding":{"x":{"datum":0,"type":"quantitative","scale":{"domain":[0,1],"range":[-86,1290],"nice":false,"zero":false},"axis":null},"x2":{"datum":1},"y":{"datum":"H","bandPosition":1}}},
{"data":{"values":[{}]},"mark":{"type":"rule","strokeWidth":2,"color":"black"},"encoding":{"x":{"datum":0,"type":"quantitative","scale":{"domain":[0,1],"range":[-86,1290],"nice":false,"zero":false},"axis":null},"x2":{"datum":1},"y":{"datum":"TCGA-LGG(N=474)","bandPosition":1}}}
]}
],
"resolve":{"scale":{"x":"independent"}}
},
{
"spacing":2,
"vconcat":[
{
"width":1290,"height":383.4,
"data":{"values":[
{"name":"TCGA-THYM(N=117)","p":"0.04","hr":0.41,"lo":0.17,"hi":1.00,"ci":"0.41(0.17,1.00)"},
{"name":"TCGA-KIRP(N=272)","p":"3.3e-4","hr":0.61,"lo":0.47,"hi":0.80,"ci":"0.61(0.47,0.80)"},
{"name":"TCGA-BLCA(N=385)","p":"0.01","hr":0.80,"lo":0.68,"hi":0.95,"ci":"0.80(0.68,0.95)"},
{"name":"TCGA-LUSC(N=418)","p":"0.01","hr":1.27,"lo":1.06,"hi":1.52,"ci":"1.27(1.06,1.52)"},
{"name":"TCGA-SKCM-P(N=97)","p":"0.03","hr":1.45,"lo":1.02,"hi":2.07,"ci":"1.45(1.02,2.07)"},
{"name":"TCGA-GBMLGG(N=598)","p":"3.8e-11","hr":1.73,"lo":1.47,"hi":2.03,"ci":"1.73(1.47,2.03)"},
{"name":"TCGA-LGG(N=466)","p":"4.4e-7","hr":1.82,"lo":1.45,"hi":2.30,"ci":"1.82(1.45,2.30)"},
{"name":"TCGA-MESO(N=64)","p":"0.01","hr":1.89,"lo":1.20,"hi":2.97,"ci":"1.89(1.20,2.97)"},
{"name":"TCGA-THCA(N=495)","p":"0.04","hr":3.51,"lo":1.07,"hi":11.47,"ci":"3.51(1.07,11.47)"},
{"name":"TCGA-PRAD(N=490)","p":"0.03","hr":6.55,"lo":1.20,"hi":35.63,"ci":"6.55(1.20,35.63)"}
]},
"encoding":{"y":{"field":"name","type":"nominal","scale":{"type":"band","domain":["H","TCGA-THYM(N=117)","TCGA-KIRP(N=272)","TCGA-BLCA(N=385)","TCGA-LUSC(N=418)","TCGA-SKCM-P(N=97)","TCGA-GBMLGG(N=598)","TCGA-LGG(N=466)","TCGA-MESO(N=64)","TCGA-THCA(N=495)","TCGA-PRAD(N=490)"],"paddingInner":0,"paddingOuter":0},"axis":null}},
"layer":[
{"layer":[
{"data":{"values":[{}]},"mark":{"type":"rule","strokeDash":[4,4],"strokeWidth":1.3,"color":"black"},"encoding":{"x":{"datum":1,"type":"quantitative","scale":{"domain":[0.17,35.63],"range":[375.4,1061.6],"nice":false,"zero":false}},"y":{"datum":"TCGA-THYM(N=117)","bandPosition":0},"y2":{"datum":"TCGA-PRAD(N=490)","bandPosition":1}}},
{"mark":{"type":"rule","strokeDash":[3,4],"strokeWidth":1.2,"color":"#222"},"encoding":{"x":{"field":"lo","type":"quantitative","scale":{"domain":[0.17,35.63],"range":[375.4,1061.6],"nice":false,"zero":false},"axis":{"orient":"bottom","values":[0.17,5,10,15,20,25,30,35,35.63],"tickCount":40,"labelExpr":"datum.value<1||datum.value>35.1?'':format(datum.value,'d')","domain":false,"ticks":true,"tickSize":11,"tickWidth":1.5,"tickColor":"black","labelFont":"Liberation Sans","labelFontSize":17,"labelColor":"black","labelPadding":3,"labelFlush":false,"labelOverlap":false,"title":"Hazard Ratio(95%CI)","titleFont":"Liberation Sans","titleFontSize":20,"titleFontWeight":"normal","titleColor":"black","titlePadding":3,"grid":false}},"x2":{"field":"hi"}}},
{"mark":{"type":"tick","size":14,"thickness":1.3,"color":"#222","opacity":1},"encoding":{"x":{"field":"lo","type":"quantitative","scale":{"domain":[0.17,35.63],"range":[375.4,1061.6],"nice":false,"zero":false}}}},
{"mark":{"type":"tick","size":14,"thickness":1.3,"color":"#222","opacity":1},"encoding":{"x":{"field":"hi","type":"quantitative","scale":{"domain":[0.17,35.63],"range":[375.4,1061.6],"nice":false,"zero":false}}}},
{"mark":{"type":"circle","size":160,"color":"#F20000","opacity":1},"encoding":{"x":{"field":"hr","type":"quantitative","scale":{"domain":[0.17,35.63],"range":[375.4,1061.6],"nice":false,"zero":false}}}}
]},
{"layer":[
{"mark":{"type":"text","align":"left","baseline":"middle","fontSize":20,"dy":3,"color":"black"},"encoding":{"x":{"datum":0.0025,"type":"quantitative","scale":{"domain":[0,1],"range":[-86,1290],"nice":false,"zero":false},"axis":null},"text":{"field":"name"}}},
{"mark":{"type":"text","align":"center","baseline":"middle","fontSize":20,"dy":3,"color":"black"},"encoding":{"x":{"datum":0.2522,"type":"quantitative","scale":{"domain":[0,1],"range":[-86,1290],"nice":false,"zero":false},"axis":null},"text":{"field":"p"}}},
{"mark":{"type":"text","align":"center","baseline":"middle","fontSize":20,"dy":3,"color":"black"},"encoding":{"x":{"datum":0.9099,"type":"quantitative","scale":{"domain":[0,1],"range":[-86,1290],"nice":false,"zero":false},"axis":null},"text":{"field":"ci"}}},
{"data":{"values":[{}]},"mark":{"type":"text","align":"left","baseline":"middle","fontSize":26,"fontWeight":"bold","dy":-2,"color":"black"},"encoding":{"x":{"datum":-0.0189,"type":"quantitative","scale":{"domain":[0,1],"range":[-86,1290],"nice":false,"zero":false},"axis":null},"y":{"datum":"H"},"text":{"value":"C"}}},
{"data":{"values":[{}]},"mark":{"type":"text","align":"left","baseline":"middle","fontSize":20,"fontWeight":"bold","dy":2,"color":"black"},"encoding":{"x":{"datum":0.0025,"type":"quantitative","scale":{"domain":[0,1],"range":[-86,1290],"nice":false,"zero":false},"axis":null},"y":{"datum":"H"},"text":{"value":"CancerCode"}}},
{"data":{"values":[{}]},"mark":{"type":"text","align":"center","baseline":"middle","fontSize":20,"fontWeight":"bold","dy":2,"color":"black"},"encoding":{"x":{"datum":0.2522,"type":"quantitative","scale":{"domain":[0,1],"range":[-86,1290],"nice":false,"zero":false},"axis":null},"y":{"datum":"H"},"text":{"value":"pvalue"}}},
{"data":{"values":[{}]},"mark":{"type":"text","align":"center","baseline":"middle","fontSize":20,"fontWeight":"bold","dy":1,"color":"black"},"encoding":{"x":{"datum":0.4295,"type":"quantitative","scale":{"domain":[0,1],"range":[-86,1290],"nice":false,"zero":false},"axis":null},"y":{"datum":"H"},"text":{"value":"DSS"}}},
{"data":{"values":[{}]},"mark":{"type":"text","align":"center","baseline":"middle","fontSize":20,"fontWeight":"bold","dy":2,"color":"black"},"encoding":{"x":{"datum":0.9164,"type":"quantitative","scale":{"domain":[0,1],"range":[-86,1290],"nice":false,"zero":false},"axis":null},"y":{"datum":"H"},"text":{"value":"Hazard Ratio(95%CI)"}}},
{"data":{"values":[{}]},"mark":{"type":"rule","strokeWidth":1.6,"color":"black"},"encoding":{"x":{"datum":0,"type":"quantitative","scale":{"domain":[0,1],"range":[-86,1290],"nice":false,"zero":false},"axis":null},"x2":{"datum":1},"y":{"datum":"H","bandPosition":1}}},
{"data":{"values":[{}]},"mark":{"type":"rule","strokeWidth":2,"color":"black"},"encoding":{"x":{"datum":0,"type":"quantitative","scale":{"domain":[0,1],"range":[-86,1290],"nice":false,"zero":false},"axis":null},"x2":{"datum":1},"y":{"datum":"TCGA-PRAD(N=490)","bandPosition":1}}}
]}
],
"resolve":{"scale":{"x":"independent"}}
},
{
"width":1290,"height":93,
"data":{"values":[
{"name":"TCGA-PRAD(N=337)","p":"0.01","hr":2.06,"lo":1.17,"hi":3.64,"ci":"2.06(1.17,3.64)"}
]},
"encoding":{"y":{"field":"name","type":"nominal","scale":{"type":"band","domain":["H","TCGA-PRAD(N=337)"],"paddingInner":0,"paddingOuter":0},"axis":null}},
"layer":[
{"layer":[
{"data":{"values":[{}]},"mark":{"type":"rule","strokeDash":[4,4],"strokeWidth":1.3,"color":"black"},"encoding":{"x":{"datum":1,"type":"quantitative","scale":{"domain":[1.17,3.64],"range":[375.4,1061.6],"nice":false,"zero":false}},"y":{"datum":"TCGA-PRAD(N=337)","bandPosition":0},"y2":{"datum":"TCGA-PRAD(N=337)","bandPosition":1}}},
{"mark":{"type":"rule","strokeDash":[3,4],"strokeWidth":1.2,"color":"#222"},"encoding":{"x":{"field":"lo","type":"quantitative","scale":{"domain":[1.17,3.64],"range":[375.4,1061.6],"nice":false,"zero":false},"axis":{"orient":"bottom","values":[1.17,1.2,1.4,1.6,1.8,2.0,2.2,2.4,2.6,2.8,3.0,3.2,3.4,3.6,3.64],"tickCount":40,"labelExpr":"datum.value<1.19||datum.value>3.62?'':format(datum.value,'.1f')","domain":false,"ticks":true,"tickSize":8,"tickWidth":1.5,"tickColor":"black","labelFont":"Liberation Sans","labelFontSize":17,"labelColor":"black","labelPadding":0,"labelFlush":false,"labelOverlap":false,"title":"Hazard Ratio(95%CI)","titleFont":"Liberation Sans","titleFontSize":20,"titleFontWeight":"normal","titleColor":"black","titlePadding":13,"grid":false}},"x2":{"field":"hi"}}},
{"mark":{"type":"tick","size":14,"thickness":1.3,"color":"#222","opacity":1},"encoding":{"x":{"field":"lo","type":"quantitative","scale":{"domain":[1.17,3.64],"range":[375.4,1061.6],"nice":false,"zero":false}}}},
{"mark":{"type":"tick","size":14,"thickness":1.3,"color":"#222","opacity":1},"encoding":{"x":{"field":"hi","type":"quantitative","scale":{"domain":[1.17,3.64],"range":[375.4,1061.6],"nice":false,"zero":false}}}},
{"mark":{"type":"circle","size":160,"color":"#F20000","opacity":1},"encoding":{"x":{"field":"hr","type":"quantitative","scale":{"domain":[1.17,3.64],"range":[375.4,1061.6],"nice":false,"zero":false}}}}
]},
{"layer":[
{"mark":{"type":"text","align":"left","baseline":"middle","fontSize":20,"dy":2,"color":"black"},"encoding":{"x":{"datum":0.0025,"type":"quantitative","scale":{"domain":[0,1],"range":[-86,1290],"nice":false,"zero":false},"axis":null},"text":{"field":"name"}}},
{"mark":{"type":"text","align":"center","baseline":"middle","fontSize":20,"dy":2,"color":"black"},"encoding":{"x":{"datum":0.2522,"type":"quantitative","scale":{"domain":[0,1],"range":[-86,1290],"nice":false,"zero":false},"axis":null},"text":{"field":"p"}}},
{"mark":{"type":"text","align":"center","baseline":"middle","fontSize":20,"dy":2,"color":"black"},"encoding":{"x":{"datum":0.9099,"type":"quantitative","scale":{"domain":[0,1],"range":[-86,1290],"nice":false,"zero":false},"axis":null},"text":{"field":"ci"}}},
{"data":{"values":[{}]},"mark":{"type":"text","align":"left","baseline":"middle","fontSize":26,"fontWeight":"bold","dy":-1,"color":"black"},"encoding":{"x":{"datum":-0.0189,"type":"quantitative","scale":{"domain":[0,1],"range":[-86,1290],"nice":false,"zero":false},"axis":null},"y":{"datum":"H"},"text":{"value":"D"}}},
{"data":{"values":[{}]},"mark":{"type":"text","align":"left","baseline":"middle","fontSize":20,"fontWeight":"bold","dy":4,"color":"black"},"encoding":{"x":{"datum":0.0025,"type":"quantitative","scale":{"domain":[0,1],"range":[-86,1290],"nice":false,"zero":false},"axis":null},"y":{"datum":"H"},"text":{"value":"CancerCode"}}},
{"data":{"values":[{}]},"mark":{"type":"text","align":"center","baseline":"middle","fontSize":20,"fontWeight":"bold","dy":4,"color":"black"},"encoding":{"x":{"datum":0.2522,"type":"quantitative","scale":{"domain":[0,1],"range":[-86,1290],"nice":false,"zero":false},"axis":null},"y":{"datum":"H"},"text":{"value":"pvalue"}}},
{"data":{"values":[{}]},"mark":{"type":"text","align":"center","baseline":"middle","fontSize":20,"fontWeight":"bold","dy":3,"color":"black"},"encoding":{"x":{"datum":0.4295,"type":"quantitative","scale":{"domain":[0,1],"range":[-86,1290],"nice":false,"zero":false},"axis":null},"y":{"datum":"H"},"text":{"value":"DFI"}}},
{"data":{"values":[{}]},"mark":{"type":"text","align":"center","baseline":"middle","fontSize":20,"fontWeight":"bold","dy":4,"color":"black"},"encoding":{"x":{"datum":0.9164,"type":"quantitative","scale":{"domain":[0,1],"range":[-86,1290],"nice":false,"zero":false},"axis":null},"y":{"datum":"H"},"text":{"value":"Hazard Ratio(95%CI)"}}},
{"data":{"values":[{}]},"mark":{"type":"rule","strokeWidth":1.6,"color":"black"},"encoding":{"x":{"datum":0,"type":"quantitative","scale":{"domain":[0,1],"range":[-86,1290],"nice":false,"zero":false},"axis":null},"x2":{"datum":1},"y":{"datum":"H","bandPosition":1}}},
{"data":{"values":[{}]},"mark":{"type":"rule","strokeWidth":2,"color":"black"},"encoding":{"x":{"datum":0,"type":"quantitative","scale":{"domain":[0,1],"range":[-86,1290],"nice":false,"zero":false},"axis":null},"x2":{"datum":1},"y":{"datum":"TCGA-PRAD(N=337)","bandPosition":1}}}
]}
],
"resolve":{"scale":{"x":"independent"}}
},
{
"width":1290,"height":378.7,
"data":{"values":[
{"name":"TCGA-PAAD(N=171)","p":"0.02","hr":0.78,"lo":0.64,"hi":0.96,"ci":"0.78(0.64,0.96)"},
{"name":"TCGA-KIRP(N=273)","p":"0.03","hr":0.79,"lo":0.64,"hi":0.98,"ci":"0.79(0.64,0.98)"},
{"name":"TCGA-BLCA(N=397)","p":"0.02","hr":0.84,"lo":0.73,"hi":0.97,"ci":"0.84(0.73,0.97)"},
{"name":"TCGA-SKCM-M(N=338)","p":"0.01","hr":0.91,"lo":0.84,"hi":0.98,"ci":"0.91(0.84,0.98)"},
{"name":"TCGA-LUSC(N=467)","p":"6.9e-3","hr":1.21,"lo":1.06,"hi":1.40,"ci":"1.21(1.06,1.40)"},
{"name":"TCGA-SKCM-P(N=96)","p":"0.03","hr":1.32,"lo":1.02,"hi":1.70,"ci":"1.32(1.02,1.70)"},
{"name":"TCGA-LGG(N=472)","p":"7.4e-6","hr":1.53,"lo":1.27,"hi":1.85,"ci":"1.53(1.27,1.85)"},
{"name":"TCGA-GBMLGG(N=616)","p":"1.7e-9","hr":1.55,"lo":1.34,"hi":1.78,"ci":"1.55(1.34,1.78)"},
{"name":"TCGA-ACC(N=76)","p":"8.6e-3","hr":1.72,"lo":1.14,"hi":2.58,"ci":"1.72(1.14,2.58)"},
{"name":"TCGA-PRAD(N=492)","p":"2.5e-4","hr":1.86,"lo":1.33,"hi":2.60,"ci":"1.86(1.33,2.60)"}
]},
"encoding":{"y":{"field":"name","type":"nominal","scale":{"type":"band","domain":["H","TCGA-PAAD(N=171)","TCGA-KIRP(N=273)","TCGA-BLCA(N=397)","TCGA-SKCM-M(N=338)","TCGA-LUSC(N=467)","TCGA-SKCM-P(N=96)","TCGA-LGG(N=472)","TCGA-GBMLGG(N=616)","TCGA-ACC(N=76)","TCGA-PRAD(N=492)"],"paddingInner":0,"paddingOuter":0},"axis":null}},
"layer":[
{"layer":[
{"data":{"values":[{}]},"mark":{"type":"rule","strokeDash":[4,4],"strokeWidth":1.3,"color":"black"},"encoding":{"x":{"datum":1,"type":"quantitative","scale":{"domain":[0.64,2.6],"range":[375.4,1061.6],"nice":false,"zero":false}},"y":{"datum":"TCGA-PAAD(N=171)","bandPosition":0},"y2":{"datum":"TCGA-PRAD(N=492)","bandPosition":1}}},
{"mark":{"type":"rule","strokeDash":[3,4],"strokeWidth":1.2,"color":"#222"},"encoding":{"x":{"field":"lo","type":"quantitative","scale":{"domain":[0.64,2.6],"range":[375.4,1061.6],"nice":false,"zero":false},"axis":{"orient":"bottom","values":[0.64,0.8,1.0,1.2,1.4,1.6,1.8,2.0,2.2,2.4,2.6],"tickCount":40,"labelExpr":"datum.value<0.7?'':format(datum.value,'.1f')","domain":false,"ticks":true,"tickSize":13,"tickWidth":1.5,"tickColor":"black","labelFont":"Liberation Sans","labelFontSize":17,"labelColor":"black","labelPadding":6,"labelFlush":false,"labelOverlap":false,"title":"Hazard Ratio(95%CI)","titleFont":"Liberation Sans","titleFontSize":20,"titleFontWeight":"normal","titleColor":"black","titlePadding":7,"grid":false}},"x2":{"field":"hi"}}},
{"mark":{"type":"tick","size":14,"thickness":1.3,"color":"#222","opacity":1},"encoding":{"x":{"field":"lo","type":"quantitative","scale":{"domain":[0.64,2.6],"range":[375.4,1061.6],"nice":false,"zero":false}}}},
{"mark":{"type":"tick","size":14,"thickness":1.3,"color":"#222","opacity":1},"encoding":{"x":{"field":"hi","type":"quantitative","scale":{"domain":[0.64,2.6],"range":[375.4,1061.6],"nice":false,"zero":false}}}},
{"mark":{"type":"circle","size":160,"color":"#F20000","opacity":1},"encoding":{"x":{"field":"hr","type":"quantitative","scale":{"domain":[0.64,2.6],"range":[375.4,1061.6],"nice":false,"zero":false}}}}
]},
{"layer":[
{"mark":{"type":"text","align":"left","baseline":"middle","fontSize":20,"dy":3,"color":"black"},"encoding":{"x":{"datum":0.0025,"type":"quantitative","scale":{"domain":[0,1],"range":[-86,1290],"nice":false,"zero":false},"axis":null},"text":{"field":"name"}}},
{"mark":{"type":"text","align":"center","baseline":"middle","fontSize":20,"dy":3,"color":"black"},"encoding":{"x":{"datum":0.2522,"type":"quantitative","scale":{"domain":[0,1],"range":[-86,1290],"nice":false,"zero":false},"axis":null},"text":{"field":"p"}}},
{"mark":{"type":"text","align":"center","baseline":"middle","fontSize":20,"dy":3,"color":"black"},"encoding":{"x":{"datum":0.9099,"type":"quantitative","scale":{"domain":[0,1],"range":[-86,1290],"nice":false,"zero":false},"axis":null},"text":{"field":"ci"}}},
{"data":{"values":[{}]},"mark":{"type":"text","align":"left","baseline":"middle","fontSize":26,"fontWeight":"bold","dy":-2,"color":"black"},"encoding":{"x":{"datum":-0.0189,"type":"quantitative","scale":{"domain":[0,1],"range":[-86,1290],"nice":false,"zero":false},"axis":null},"y":{"datum":"H"},"text":{"value":"E"}}},
{"data":{"values":[{}]},"mark":{"type":"text","align":"left","baseline":"middle","fontSize":20,"fontWeight":"bold","dy":2,"color":"black"},"encoding":{"x":{"datum":0.0025,"type":"quantitative","scale":{"domain":[0,1],"range":[-86,1290],"nice":false,"zero":false},"axis":null},"y":{"datum":"H"},"text":{"value":"CancerCode"}}},
{"data":{"values":[{}]},"mark":{"type":"text","align":"center","baseline":"middle","fontSize":20,"fontWeight":"bold","dy":2,"color":"black"},"encoding":{"x":{"datum":0.2522,"type":"quantitative","scale":{"domain":[0,1],"range":[-86,1290],"nice":false,"zero":false},"axis":null},"y":{"datum":"H"},"text":{"value":"pvalue"}}},
{"data":{"values":[{}]},"mark":{"type":"text","align":"center","baseline":"middle","fontSize":20,"fontWeight":"bold","dy":1,"color":"black"},"encoding":{"x":{"datum":0.4295,"type":"quantitative","scale":{"domain":[0,1],"range":[-86,1290],"nice":false,"zero":false},"axis":null},"y":{"datum":"H"},"text":{"value":"PFI"}}},
{"data":{"values":[{}]},"mark":{"type":"text","align":"center","baseline":"middle","fontSize":20,"fontWeight":"bold","dy":2,"color":"black"},"encoding":{"x":{"datum":0.9164,"type":"quantitative","scale":{"domain":[0,1],"range":[-86,1290],"nice":false,"zero":false},"axis":null},"y":{"datum":"H"},"text":{"value":"Hazard Ratio(95%CI)"}}},
{"data":{"values":[{}]},"mark":{"type":"rule","strokeWidth":1.6,"color":"black"},"encoding":{"x":{"datum":0,"type":"quantitative","scale":{"domain":[0,1],"range":[-86,1290],"nice":false,"zero":false},"axis":null},"x2":{"datum":1},"y":{"datum":"H","bandPosition":1}}},
{"data":{"values":[{}]},"mark":{"type":"rule","strokeWidth":2,"color":"black"},"encoding":{"x":{"datum":0,"type":"quantitative","scale":{"domain":[0,1],"range":[-86,1290],"nice":false,"zero":false},"axis":null},"x2":{"datum":1},"y":{"datum":"TCGA-PRAD(N=492)","bandPosition":1}}}
]}
],
"resolve":{"scale":{"x":"independent"}}
}
]
}
]
}
]
}
